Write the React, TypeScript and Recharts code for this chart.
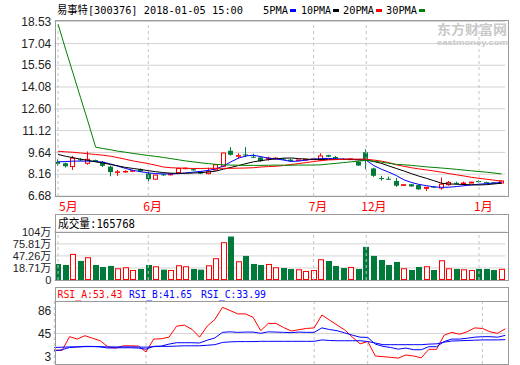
import { Bar, CartesianGrid, ComposedChart, Line, ReferenceLine, XAxis, YAxis } from 'recharts'

const RED = '#ff0000'
const GREEN = '#007a3b'
const BLUE = '#0000ff'
const GRID = '#d4d4d4'
const FRAME = '#9a9a9a'
const NUM_FONT = "'Liberation Sans', Arial, sans-serif"
const HEAD_FONT = "'DejaVu Sans Mono', 'Noto Sans CJK SC', monospace"
const CJK_FONT = "'Noto Sans CJK SC', sans-serif"

// daily candles, 2017-05 .. 2018-01-05
const opens = [9.0, 8.9, 8.68, 9.17, 8.9, 9.12, 9.0, 8.67, 8.3, 8.32, 8.36, 8.5, 8.2, 7.82, 8.15, 8.12, 8.27, 8.55, 8.5, 8.33,
  8.2, 8.45, 8.7, 9.75, 9.38, 9.5, 9.35, 9.3, 9.2, 9.22, 9.22, 9.15, 9.1, 9.12, 9.15, 9.12, 9.45, 9.33, 9.2, 9.15,
  9.0, 9.65, 8.55, 7.9, 7.85, 7.7, 7.4, 7.48, 7.42, 7.2, 7.32, 7.22, 7.45, 7.57, 7.52, 7.56, 7.7, 7.62, 7.6, 7.56]
const closes = [8.85, 8.7, 9.25, 9.1, 9.17, 9.05, 8.73, 8.3, 8.32, 8.35, 8.4, 8.35, 7.82, 8.1, 8.1, 8.16, 8.55, 8.57, 8.42, 8.2,
  8.33, 8.8, 9.6, 9.48, 9.42, 9.45, 9.3, 9.05, 9.25, 9.25, 9.15, 9.05, 9.13, 9.18, 9.2, 9.4, 9.35, 9.22, 9.15, 9.2,
  8.75, 9.15, 8.05, 7.85, 7.8, 7.38, 7.45, 7.33, 7.13, 7.27, 7.28, 7.48, 7.6, 7.53, 7.56, 7.62, 7.62, 7.58, 7.57, 7.7]
const highs = [9.17, 8.95, 9.4, 9.25, 9.7, 9.15, 9.05, 8.75, 8.45, 8.42, 8.42, 8.55, 8.35, 8.12, 8.2, 8.2, 8.6, 8.62, 8.55, 8.35,
  8.6, 8.85, 9.62, 10.0, 9.58, 10.0, 9.55, 9.32, 9.35, 9.3, 9.25, 9.2, 9.15, 9.22, 9.25, 9.58, 9.48, 9.4, 9.25, 9.22,
  9.05, 9.85, 8.6, 8.05, 8.0, 7.9, 7.47, 7.5, 7.45, 7.3, 7.35, 7.93, 7.7, 7.65, 7.65, 7.65, 7.75, 7.65, 7.62, 7.75]
const lows = [8.72, 8.62, 8.45, 9.05, 8.8, 9.0, 8.65, 8.02, 8.05, 8.25, 8.3, 8.3, 7.65, 7.8, 8.05, 8.08, 8.25, 8.5, 8.4, 8.18,
  8.15, 8.4, 8.65, 9.42, 9.22, 9.32, 9.25, 9.0, 9.08, 9.18, 9.12, 9.02, 9.05, 9.1, 9.12, 9.05, 9.32, 9.2, 9.12, 9.12,
  8.72, 8.5, 7.98, 7.72, 7.78, 7.3, 7.38, 7.3, 7.1, 7.02, 7.25, 7.1, 7.38, 7.45, 7.45, 7.55, 7.6, 7.55, 7.53, 7.52]

const ma5 = [9.0, 9.02, 9.05, 9.05, 9.05, 9.02, 8.98, 8.85, 8.7, 8.55, 8.42, 8.33, 8.25, 8.2, 8.18, 8.18, 8.2, 8.25, 8.3, 8.35,
  8.42, 8.52, 8.72, 9.0, 9.25, 9.4, 9.45, 9.35, 9.25, 9.2, 9.12, 9.03, 9.05, 9.12, 9.18, 9.22, 9.23, 9.2, 9.18, 9.17,
  9.15, 9.1, 8.75, 8.5, 8.3, 8.07, 7.78, 7.6, 7.47, 7.38, 7.3, 7.27, 7.28, 7.32, 7.38, 7.43, 7.48, 7.52, 7.56, 7.6]
const ma10 = [9.5, 9.38, 9.28, 9.18, 9.1, 9.0, 8.92, 8.82, 8.72, 8.62, 8.55, 8.48, 8.4, 8.33, 8.27, 8.23, 8.22, 8.22, 8.24, 8.27,
  8.31, 8.37, 8.5, 8.62, 8.75, 8.88, 9.0, 9.08, 9.15, 9.2, 9.25, 9.26, 9.22, 9.18, 9.17, 9.16, 9.16, 9.17, 9.17, 9.16,
  9.13, 9.12, 9.02, 8.9, 8.72, 8.55, 8.38, 8.2, 8.03, 7.88, 7.72, 7.55, 7.5, 7.48, 7.46, 7.44, 7.43, 7.45, 7.5, 7.55]
const ma20 = [9.72, 9.68, 9.65, 9.6, 9.55, 9.5, 9.45, 9.38, 9.28, 9.17, 9.06, 8.97, 8.88, 8.77, 8.65, 8.6, 8.58, 8.56, 8.55, 8.55,
  8.56, 8.56, 8.56, 8.56, 8.57, 8.58, 8.6, 8.65, 8.68, 8.7, 8.75, 8.82, 8.88, 8.95, 9.02, 9.08, 9.13, 9.15, 9.17, 9.18,
  9.19, 9.18, 9.12, 9.05, 8.95, 8.8, 8.7, 8.6, 8.52, 8.45, 8.38, 8.3, 8.2, 8.12, 8.04, 7.95, 7.88, 7.82, 7.76, 7.68]
const ma30 = [18.35, 16.65, 15.0, 13.35, 11.7, 10.0, 9.9, 9.82, 9.72, 9.65, 9.57, 9.5, 9.43, 9.37, 9.3, 9.22, 9.14, 9.06, 9.0, 8.93,
  8.88, 8.83, 8.8, 8.78, 8.77, 8.76, 8.76, 8.76, 8.77, 8.78, 8.77, 8.77, 8.78, 8.78, 8.78, 8.8, 8.85, 8.9, 8.95, 9.0,
  9.05, 9.1, 9.05, 8.98, 8.9, 8.83, 8.8, 8.76, 8.71, 8.66, 8.62, 8.58, 8.54, 8.49, 8.44, 8.39, 8.34, 8.3, 8.24, 8.18]

// 成交量, 万手
const volumes = [28.2, 25.8, 52.0, 35.4, 44.2, 25.8, 21.1, 23.5, 18.0, 20.4, 13.9, 16.3, 25.8, 22.8, 14.7, 13.9, 25.1, 22.8, 16.3, 14.7,
  25.1, 41.8, 79.8, 93.2, 34.6, 47.3, 28.2, 25.8, 28.2, 20.4, 18.7, 16.3, 15.6, 11.6, 13.9, 39.4, 35.4, 23.5, 18.7, 21.1,
  16.3, 68.7, 47.3, 37.7, 25.8, 33.0, 18.0, 13.9, 21.1, 22.8, 13.9, 37.0, 18.0, 16.3, 15.6, 13.9, 16.3, 16.3, 13.9, 16.58]

const rsiA = [15.5, 14.5, 39.3, 35, 41, 36.5, 32, 21.4, 18.5, 23, 23, 22.5, 12, 35, 35.6, 38.4, 58, 60, 52.5, 38.4,
  58, 70, 91.6, 86, 80, 80, 74, 50, 63, 63, 55.6, 49.4, 51.8, 54, 55, 78, 69, 60, 51.3, 38.4,
  26.5, 30.6, 4.8, 3.6, 2.4, 1.0, 6.6, 4.8, 1.5, 16.7, 16.7, 42, 47, 43.6, 48, 55, 54, 48, 45.3, 53.43]
const rsiB = [14, 16, 20, 21, 22, 22, 21, 19, 19.5, 19.5, 19.5, 19, 17, 22, 22.5, 26, 28.5, 28.5, 28.5, 28,
  33, 37, 47, 48, 47, 47.5, 47.5, 45.3, 48, 47.5, 47, 46.5, 47.5, 47, 47, 55, 52, 50, 46, 42,
  38.4, 38, 26, 22, 20, 17, 19, 16, 16, 21.4, 21.4, 30.6, 35, 35, 36.5, 38.4, 39.3, 39.3, 38.4, 41.65]
const rsiC = [20, 20.5, 21, 21, 21.5, 21.5, 21.5, 21, 21, 21, 21, 20.8, 20.5, 21.5, 22, 22, 22.5, 23, 23, 23,
  24, 25, 29, 30, 30.5, 30.5, 30.5, 31, 31, 31, 31, 31, 31, 31, 31, 33.5, 32.5, 32, 32, 32,
  32, 30.6, 28, 25, 25, 25, 25, 25, 25, 26, 26.5, 29.5, 31.5, 32, 32.5, 33, 33.5, 33.5, 33.5, 33.99]

const monthStarts = [0, 12, 34, 41, 56]
const monthLabels = ['5月', '6月', '7月', '12月', '1月']
const priceTicks = [6.68, 8.16, 9.64, 11.12, 12.6, 14.08, 15.56, 17.04, 18.53]
const volFloor = -9.84 // bottom of the volume panel, labelled "0" like the source
const volTicks = [volFloor, 18.71, 47.26, 75.81, 104]
const rsiTicks = [3, 45, 86]

const rows = closes.map((c, i) => ({
  day: i,
  open: opens[i],
  close: c,
  high: highs[i],
  low: lows[i],
  range: [lows[i], highs[i]],
  ma5: ma5[i],
  ma10: ma10[i],
  ma20: ma20[i],
  ma30: ma30[i],
  vol: [volFloor, volumes[i]],
  up: c >= opens[i],
  rsiA: rsiA[i],
  rsiB: rsiB[i],
  rsiC: rsiC[i],
}))

const Candle = (props: any) => {
  const { x, y, width, height, payload } = props
  const { open, close, high, low, up } = payload
  const span = high - low || 1
  const py = (p: number) => y + ((high - p) / span) * height
  const cx = Math.floor(x + width / 2) + 0.5
  const top = py(Math.max(open, close))
  const bot = py(Math.min(open, close))
  const bx = Math.round(x)
  if (up) {
    return (
      <g>
        <line x1={cx} x2={cx} y1={y} y2={top} stroke={RED} />
        <line x1={cx} x2={cx} y1={bot} y2={y + height} stroke={RED} />
        <rect x={bx + 0.5} y={top} width={width - 1} height={Math.max(bot - top, 0.5)} fill="#fff" stroke={RED} />
      </g>
    )
  }
  return (
    <g>
      <line x1={cx} x2={cx} y1={y} y2={y + height} stroke={GREEN} />
      <rect x={bx} y={top} width={width} height={Math.max(bot - top, 1)} fill={GREEN} />
    </g>
  )
}

const VolBar = (props: any) => {
  const { x, y, width, height, payload } = props
  const bx = Math.round(x)
  if (payload.up) {
    return <rect x={bx + 0.5} y={y + 0.5} width={width - 1} height={height - 1} fill="#fff" stroke={RED} />
  }
  return <rect x={bx} y={y} width={width} height={height} fill={GREEN} />
}

const MonthTick = (props: any) => {
  const { x, y, payload } = props
  const k = monthStarts.indexOf(payload.value)
  if (k < 0) return null
  return (
    <text x={k === 0 ? x + 1 : x - 5} y={y + 15} fill={RED} fontSize={12} fontFamily={CJK_FONT}>
      {monthLabels[k]}
    </text>
  )
}

const tickStyle = { fontSize: 12, fill: '#222', fontFamily: NUM_FONT }

const monthLines = monthStarts.map((m) => (
  <ReferenceLine key={m} x={m} stroke="#c4c4c4" strokeDasharray="3 3" />
))

const App = () => {
  return (
    <div style={{ position: 'absolute', left: 0, top: 0, width: 520, height: 365, background: '#fff' }}>
      {/* K线 */}
      <div style={{ position: 'absolute', left: 0, top: 0 }}>
        <ComposedChart width={520} height={215} data={rows} margin={{ top: 21.5, right: 14.7, bottom: 0, left: 0 }} barCategoryGap={0}>
          <CartesianGrid vertical={false} stroke={GRID} />
          <XAxis dataKey="day" type="category" ticks={monthStarts} interval={0} height={19} tickSize={0} tickMargin={0}
            axisLine={false} tickLine={false} tick={<MonthTick />} />
          <YAxis type="number" domain={[6.68, 18.53]} ticks={priceTicks} interval={0} width={54.3} tickSize={0} tickMargin={3}
            axisLine={false} tickLine={false} tick={tickStyle} tickFormatter={(v: number) => v.toFixed(2)} />
          {monthLines}
          <Bar dataKey="range" barSize={5} shape={Candle} isAnimationActive={false} />
          <Line type="linear" dataKey="ma5" stroke={BLUE} strokeWidth={1} dot={false} isAnimationActive={false} />
          <Line type="linear" dataKey="ma10" stroke="#000" strokeWidth={1} dot={false} isAnimationActive={false} />
          <Line type="linear" dataKey="ma20" stroke={RED} strokeWidth={1} dot={false} isAnimationActive={false} />
          <Line type="linear" dataKey="ma30" stroke="#008000" strokeWidth={1} dot={false} isAnimationActive={false} />
        </ComposedChart>
      </div>

      {/* 成交量 */}
      <div style={{ position: 'absolute', left: 0, top: 200 }}>
        <ComposedChart width={520} height={100} data={rows} margin={{ top: 32, right: 14.7, bottom: 20, left: 0 }} barCategoryGap={0}>
          <CartesianGrid vertical={false} stroke={GRID} />
          <XAxis dataKey="day" type="category" hide />
          <YAxis type="number" domain={[volFloor, 104]} ticks={volTicks} interval={0} width={54.3} tickSize={0} tickMargin={3}
            axisLine={false} tickLine={false}
            tick={{ fontSize: 11, fill: '#222', fontFamily: "'Liberation Sans', 'Noto Sans CJK SC', sans-serif" }}
            tickFormatter={(v: number) => (v <= volFloor ? '0' : `${v}万`)} />
          {monthLines}
          <Bar dataKey="vol" barSize={6} shape={VolBar} isAnimationActive={false} />
        </ComposedChart>
      </div>

      {/* RSI */}
      <div style={{ position: 'absolute', left: 0, top: 290 }}>
        <ComposedChart width={520} height={75} data={rows} margin={{ top: 11, right: 14.7, bottom: 1, left: 0 }}>
          <XAxis dataKey="day" type="category" hide />
          <YAxis type="number" domain={[-9.5, 103]} ticks={rsiTicks} interval={0} width={54.3} tickSize={0} tickMargin={3}
            axisLine={false} tickLine={false} tick={tickStyle} />
          <ReferenceLine y={45} stroke={GRID} />
          {monthLines}
          <Line type="linear" dataKey="rsiA" stroke={RED} strokeWidth={1} dot={false} isAnimationActive={false} />
          <Line type="linear" dataKey="rsiB" stroke={BLUE} strokeWidth={1} dot={false} isAnimationActive={false} />
          <Line type="linear" dataKey="rsiC" stroke={BLUE} strokeWidth={1} dot={false} isAnimationActive={false} />
        </ComposedChart>
      </div>

      {/* 标题、图例、边框 */}
      <svg width={520} height={365} style={{ position: 'absolute', left: 0, top: 0, pointerEvents: 'none' }}>
        <text x={57} y={14} fontSize={11} fontFamily={HEAD_FONT} fill="#000" textLength={186} lengthAdjust="spacingAndGlyphs">
          易事特[300376] 2018-01-05 15:00
        </text>
        <text x={263} y={14} fontSize={11} fontFamily={HEAD_FONT} fill="#000" textLength={25} lengthAdjust="spacingAndGlyphs">5PMA</text>
        <rect x={290} y={9} width={6} height={3} fill={BLUE} />
        <text x={301} y={14} fontSize={11} fontFamily={HEAD_FONT} fill="#000" textLength={30} lengthAdjust="spacingAndGlyphs">10PMA</text>
        <rect x={333} y={9} width={6} height={3} fill="#000" />
        <text x={343} y={14} fontSize={11} fontFamily={HEAD_FONT} fill="#000" textLength={31} lengthAdjust="spacingAndGlyphs">20PMA</text>
        <rect x={376} y={9} width={6} height={3} fill={RED} />
        <text x={386} y={14} fontSize={11} fontFamily={HEAD_FONT} fill="#000" textLength={31} lengthAdjust="spacingAndGlyphs">30PMA</text>
        <rect x={419} y={9} width={6} height={3} fill="#008000" />

        <text x={437} y={34} fontSize={13} fontWeight="bold" fontFamily={CJK_FONT} fill="#c8c8c8" textLength={70} lengthAdjust="spacingAndGlyphs">东方财富网</text>
        <text x={437} y={45} fontSize={7} fontWeight="bold" fontFamily={NUM_FONT} fill="#c8c8c8" textLength={71} lengthAdjust="spacingAndGlyphs">eastmoney.com</text>

        <rect x={55.5} y={20.5} width={453} height={176} fill="none" stroke={FRAME} />
        <rect x={55.5} y={214.5} width={453} height={18} fill="none" stroke={FRAME} />
        <rect x={55.5} y={232.5} width={453} height={48} fill="none" stroke={FRAME} />
        <rect x={55.5} y={287.5} width={453} height={14} fill="none" stroke={FRAME} />
        <rect x={55.5} y={301.5} width={453} height={63} fill="none" stroke={FRAME} />

        <text x={58} y={228} fontSize={12} fontFamily={HEAD_FONT} fill="#000" textLength={77} lengthAdjust="spacingAndGlyphs">成交量:165768</text>
        <text x={57.5} y={298} fontSize={11} fontFamily={HEAD_FONT} fill={RED} textLength={65} lengthAdjust="spacingAndGlyphs">RSI_A:53.43</text>
        <text x={129} y={298} fontSize={11} fontFamily={HEAD_FONT} fill={BLUE} textLength={63} lengthAdjust="spacingAndGlyphs">RSI_B:41.65</text>
        <text x={201} y={298} fontSize={11} fontFamily={HEAD_FONT} fill={BLUE} textLength={65} lengthAdjust="spacingAndGlyphs">RSI_C:33.99</text>
      </svg>
    </div>
  )
}

export default App
